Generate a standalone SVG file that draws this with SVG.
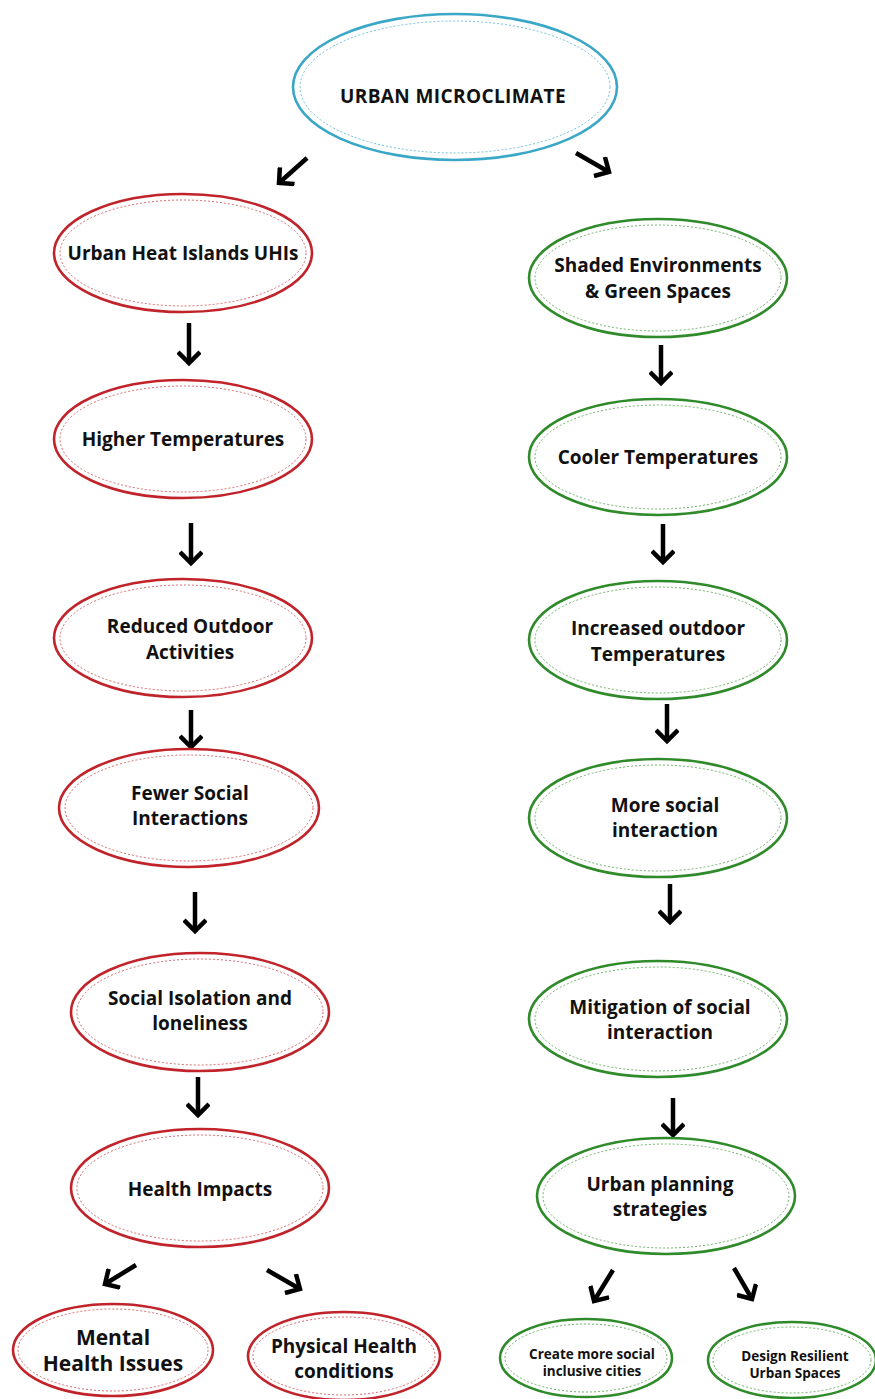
<svg xmlns="http://www.w3.org/2000/svg" width="875" height="1399" viewBox="0 0 875 1399">
<defs>
<style>
.bg{fill:#ffffff}
.o{fill:#ffffff;stroke-width:2.6}
.i{fill:none;stroke-width:1;stroke-dasharray:2 2}
.blue .o{stroke:#3ba7c6}
.red .o{stroke:#c1232a}
.green .o{stroke:#2f8a2a}
.red .i{stroke:#d86a6e}
.green .i{stroke:#6fb36a}
.blue .i{stroke:#6cc0d8}
text{font-family:"Open Sans","Liberation Sans",sans-serif;font-weight:700;fill:#111111;text-anchor:middle}
.t19{font-size:19px}
.top{font-size:19px;letter-spacing:0.4px}
.t21{font-size:21px}
.t14{font-size:13.5px}
.c{fill:none;stroke:#000000;stroke-width:4.5}
</style>
<marker id="ah" viewBox="0 0 24 24" refX="19" refY="12" markerWidth="24" markerHeight="24" markerUnits="userSpaceOnUse" orient="auto">
<path d="M8,1 L19,12 L8,23" fill="none" stroke="#000000" stroke-width="4.5"/>
</marker>
</defs>
<rect class="bg" x="0" y="0" width="875" height="1399"/>

<g id="connectors">
<path class="c" d="M307,158 L279,183" marker-end="url(#ah)"/>
<path class="c" d="M576,153 L609,172" marker-end="url(#ah)"/>
<path class="c" d="M189,323 L189,363" marker-end="url(#ah)"/>
<path class="c" d="M191,523 L191,563" marker-end="url(#ah)"/>
<path class="c" d="M191,710 L191,747" marker-end="url(#ah)"/>
<path class="c" d="M195,892 L195,931" marker-end="url(#ah)"/>
<path class="c" d="M198,1077 L198,1115" marker-end="url(#ah)"/>
<path class="c" d="M136,1265 L105,1284" marker-end="url(#ah)"/>
<path class="c" d="M267,1270 L300,1289" marker-end="url(#ah)"/>
<path class="c" d="M661,345 L661,383" marker-end="url(#ah)"/>
<path class="c" d="M663,524 L663,562" marker-end="url(#ah)"/>
<path class="c" d="M667,704 L667,741" marker-end="url(#ah)"/>
<path class="c" d="M670,884 L670,922" marker-end="url(#ah)"/>
<path class="c" d="M673,1098 L673,1135" marker-end="url(#ah)"/>
<path class="c" d="M613,1270 L594,1301" marker-end="url(#ah)"/>
<path class="c" d="M734,1268 L752,1299" marker-end="url(#ah)"/>
</g>

<g id="n-urban-microclimate" class="blue">
<ellipse class="o" cx="455" cy="87" rx="162" ry="73"/>
<ellipse class="i" cx="455" cy="87" rx="155" ry="66"/>
<text class="top" x="453" y="103">URBAN MICROCLIMATE</text>
</g>

<g id="n-uhi" class="red">
<ellipse class="o" cx="183" cy="253" rx="129" ry="59"/>
<ellipse class="i" cx="183" cy="253" rx="123" ry="53"/>
<text class="t19" x="183" y="260">Urban Heat Islands UHIs</text>
</g>
<g id="n-higher-temp" class="red">
<ellipse class="o" cx="183" cy="439" rx="129" ry="59"/>
<ellipse class="i" cx="183" cy="439" rx="123" ry="53"/>
<text class="t19" x="183" y="446">Higher Temperatures</text>
</g>
<g id="n-reduced" class="red">
<ellipse class="o" cx="183" cy="638" rx="129" ry="59"/>
<ellipse class="i" cx="183" cy="638" rx="123" ry="53"/>
<text class="t19" x="190" y="633">Reduced Outdoor</text>
<text class="t19" x="190" y="659">Activities</text>
</g>
<g id="n-fewer" class="red">
<ellipse class="o" cx="189" cy="808" rx="130" ry="59"/>
<ellipse class="i" cx="189" cy="808" rx="124" ry="53"/>
<text class="t19" x="190" y="800">Fewer Social</text>
<text class="t19" x="190" y="825">Interactions</text>
</g>
<g id="n-isolation" class="red">
<ellipse class="o" cx="200" cy="1012" rx="129" ry="59"/>
<ellipse class="i" cx="200" cy="1012" rx="123" ry="53"/>
<text class="t19" x="200" y="1005">Social Isolation and</text>
<text class="t19" x="200" y="1030">loneliness</text>
</g>
<g id="n-health" class="red">
<ellipse class="o" cx="200" cy="1188" rx="129" ry="59"/>
<ellipse class="i" cx="200" cy="1188" rx="123" ry="53"/>
<text class="t19" x="200" y="1196">Health Impacts</text>
</g>
<g id="n-mental" class="red">
<ellipse class="o" cx="113" cy="1350" rx="100" ry="46"/>
<ellipse class="i" cx="113" cy="1350" rx="95" ry="41"/>
<text class="t21" x="113" y="1345">Mental</text>
<text class="t21" x="113" y="1371">Health Issues</text>
</g>
<g id="n-physical" class="red">
<ellipse class="o" cx="344" cy="1356" rx="96" ry="44"/>
<ellipse class="i" cx="344" cy="1356" rx="91" ry="39"/>
<text class="t19" x="344" y="1353">Physical Health</text>
<text class="t19" x="344" y="1378">conditions</text>
</g>

<g id="n-shaded" class="green">
<ellipse class="o" cx="658" cy="278" rx="129" ry="59"/>
<ellipse class="i" cx="658" cy="278" rx="123" ry="53"/>
<text class="t19" x="658" y="272">Shaded Environments</text>
<text class="t19" x="658" y="298">&amp; Green Spaces</text>
</g>
<g id="n-cooler" class="green">
<ellipse class="o" cx="658" cy="457" rx="129" ry="58"/>
<ellipse class="i" cx="658" cy="457" rx="123" ry="52"/>
<text class="t19" x="658" y="464">Cooler Temperatures</text>
</g>
<g id="n-increased" class="green">
<ellipse class="o" cx="658" cy="640" rx="129" ry="59"/>
<ellipse class="i" cx="658" cy="640" rx="123" ry="53"/>
<text class="t19" x="658" y="635">Increased outdoor</text>
<text class="t19" x="658" y="661">Temperatures</text>
</g>
<g id="n-more-social" class="green">
<ellipse class="o" cx="658" cy="818" rx="129" ry="59"/>
<ellipse class="i" cx="658" cy="818" rx="123" ry="53"/>
<text class="t19" x="665" y="812">More social</text>
<text class="t19" x="665" y="837">interaction</text>
</g>
<g id="n-mitigation" class="green">
<ellipse class="o" cx="658" cy="1019" rx="129" ry="58"/>
<ellipse class="i" cx="658" cy="1019" rx="123" ry="52"/>
<text class="t19" x="660" y="1014">Mitigation of social</text>
<text class="t19" x="660" y="1039">interaction</text>
</g>
<g id="n-planning" class="green">
<ellipse class="o" cx="666" cy="1196" rx="129" ry="58"/>
<ellipse class="i" cx="666" cy="1196" rx="123" ry="52"/>
<text class="t19" x="660" y="1191">Urban planning</text>
<text class="t19" x="660" y="1216">strategies</text>
</g>
<g id="n-inclusive" class="green">
<ellipse class="o" cx="586" cy="1358" rx="86" ry="39"/>
<ellipse class="i" cx="586" cy="1358" rx="81" ry="34"/>
<text class="t14" x="592" y="1359">Create more social</text>
<text class="t14" x="592" y="1376">inclusive cities</text>
</g>
<g id="n-resilient" class="green">
<ellipse class="o" cx="792" cy="1360" rx="84" ry="38"/>
<ellipse class="i" cx="792" cy="1360" rx="79" ry="33"/>
<text class="t14" x="795" y="1361">Design Resilient</text>
<text class="t14" x="795" y="1378">Urban Spaces</text>
</g>
</svg>
